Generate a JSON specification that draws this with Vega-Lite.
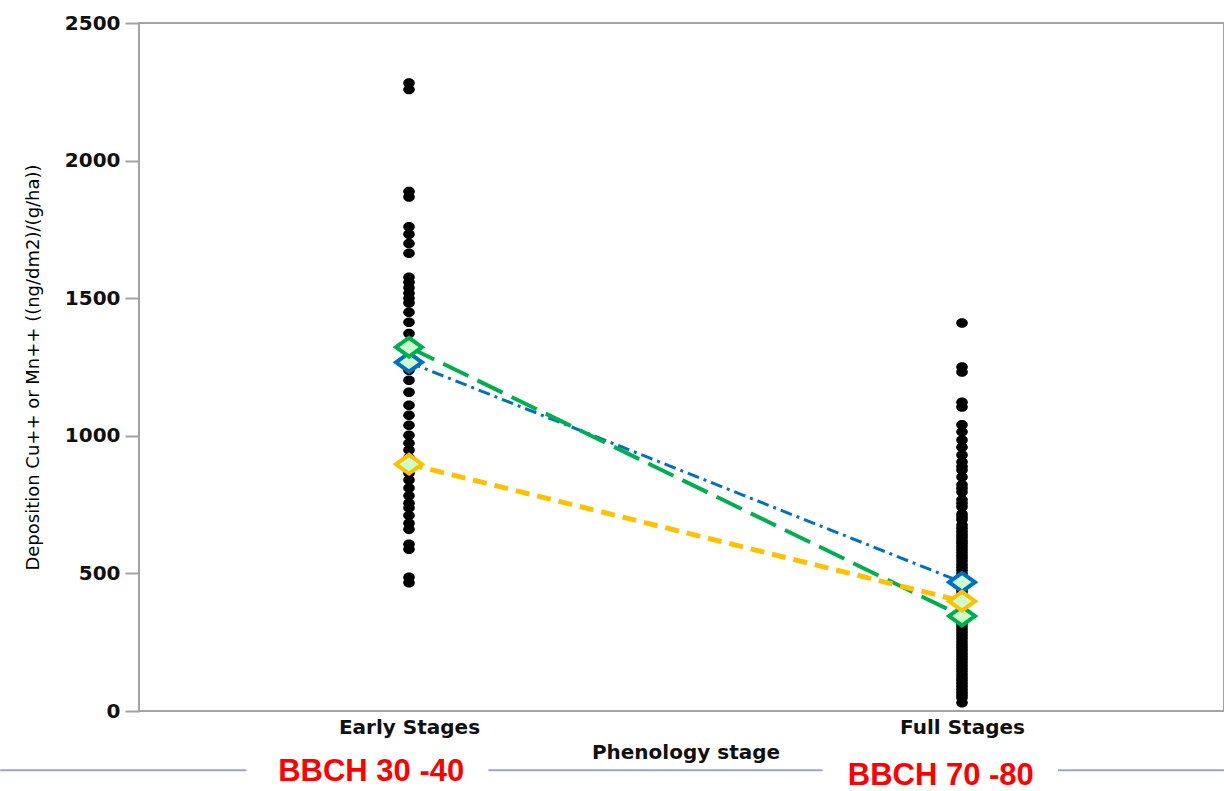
{
  "$schema": "https://vega.github.io/schema/vega-lite/v6.json",
  "width": 1085,
  "height": 688,
  "autosize": {"type": "none"},
  "padding": {"left": 139, "top": 23, "right": 0, "bottom": 80},
  "background": "white",
  "config": {
    "view": {"stroke": "#a3a3a3", "strokeWidth": 2},
    "axis": {"grid": false, "domain": false}
  },
  "datasets": {
    "samples": [
      {"stage": "Early Stages", "deposition": 2282},
      {"stage": "Early Stages", "deposition": 2258},
      {"stage": "Early Stages", "deposition": 1888},
      {"stage": "Early Stages", "deposition": 1868},
      {"stage": "Early Stages", "deposition": 1760},
      {"stage": "Early Stages", "deposition": 1732},
      {"stage": "Early Stages", "deposition": 1699},
      {"stage": "Early Stages", "deposition": 1663},
      {"stage": "Early Stages", "deposition": 1576},
      {"stage": "Early Stages", "deposition": 1558},
      {"stage": "Early Stages", "deposition": 1538},
      {"stage": "Early Stages", "deposition": 1518},
      {"stage": "Early Stages", "deposition": 1500},
      {"stage": "Early Stages", "deposition": 1483},
      {"stage": "Early Stages", "deposition": 1449},
      {"stage": "Early Stages", "deposition": 1413},
      {"stage": "Early Stages", "deposition": 1372},
      {"stage": "Early Stages", "deposition": 1330},
      {"stage": "Early Stages", "deposition": 1290},
      {"stage": "Early Stages", "deposition": 1238},
      {"stage": "Early Stages", "deposition": 1202},
      {"stage": "Early Stages", "deposition": 1158},
      {"stage": "Early Stages", "deposition": 1111},
      {"stage": "Early Stages", "deposition": 1075},
      {"stage": "Early Stages", "deposition": 1038},
      {"stage": "Early Stages", "deposition": 1002},
      {"stage": "Early Stages", "deposition": 973},
      {"stage": "Early Stages", "deposition": 948},
      {"stage": "Early Stages", "deposition": 920},
      {"stage": "Early Stages", "deposition": 890},
      {"stage": "Early Stages", "deposition": 864},
      {"stage": "Early Stages", "deposition": 839},
      {"stage": "Early Stages", "deposition": 810},
      {"stage": "Early Stages", "deposition": 782},
      {"stage": "Early Stages", "deposition": 755},
      {"stage": "Early Stages", "deposition": 738},
      {"stage": "Early Stages", "deposition": 710},
      {"stage": "Early Stages", "deposition": 682},
      {"stage": "Early Stages", "deposition": 660},
      {"stage": "Early Stages", "deposition": 606},
      {"stage": "Early Stages", "deposition": 588},
      {"stage": "Early Stages", "deposition": 486},
      {"stage": "Early Stages", "deposition": 466},
      {"stage": "Full Stages", "deposition": 1410},
      {"stage": "Full Stages", "deposition": 1250},
      {"stage": "Full Stages", "deposition": 1232},
      {"stage": "Full Stages", "deposition": 1122},
      {"stage": "Full Stages", "deposition": 1105},
      {"stage": "Full Stages", "deposition": 1040},
      {"stage": "Full Stages", "deposition": 1015},
      {"stage": "Full Stages", "deposition": 985},
      {"stage": "Full Stages", "deposition": 958},
      {"stage": "Full Stages", "deposition": 930},
      {"stage": "Full Stages", "deposition": 905},
      {"stage": "Full Stages", "deposition": 888},
      {"stage": "Full Stages", "deposition": 876},
      {"stage": "Full Stages", "deposition": 850},
      {"stage": "Full Stages", "deposition": 822},
      {"stage": "Full Stages", "deposition": 809},
      {"stage": "Full Stages", "deposition": 796},
      {"stage": "Full Stages", "deposition": 768},
      {"stage": "Full Stages", "deposition": 755},
      {"stage": "Full Stages", "deposition": 742},
      {"stage": "Full Stages", "deposition": 716},
      {"stage": "Full Stages", "deposition": 705},
      {"stage": "Full Stages", "deposition": 695},
      {"stage": "Full Stages", "deposition": 676},
      {"stage": "Full Stages", "deposition": 664},
      {"stage": "Full Stages", "deposition": 652},
      {"stage": "Full Stages", "deposition": 641},
      {"stage": "Full Stages", "deposition": 631},
      {"stage": "Full Stages", "deposition": 620},
      {"stage": "Full Stages", "deposition": 610},
      {"stage": "Full Stages", "deposition": 599},
      {"stage": "Full Stages", "deposition": 588},
      {"stage": "Full Stages", "deposition": 577},
      {"stage": "Full Stages", "deposition": 566},
      {"stage": "Full Stages", "deposition": 556},
      {"stage": "Full Stages", "deposition": 545},
      {"stage": "Full Stages", "deposition": 533},
      {"stage": "Full Stages", "deposition": 522},
      {"stage": "Full Stages", "deposition": 511},
      {"stage": "Full Stages", "deposition": 500},
      {"stage": "Full Stages", "deposition": 489},
      {"stage": "Full Stages", "deposition": 478},
      {"stage": "Full Stages", "deposition": 467},
      {"stage": "Full Stages", "deposition": 457},
      {"stage": "Full Stages", "deposition": 446},
      {"stage": "Full Stages", "deposition": 436},
      {"stage": "Full Stages", "deposition": 425},
      {"stage": "Full Stages", "deposition": 414},
      {"stage": "Full Stages", "deposition": 403},
      {"stage": "Full Stages", "deposition": 392},
      {"stage": "Full Stages", "deposition": 381},
      {"stage": "Full Stages", "deposition": 370},
      {"stage": "Full Stages", "deposition": 360},
      {"stage": "Full Stages", "deposition": 350},
      {"stage": "Full Stages", "deposition": 339},
      {"stage": "Full Stages", "deposition": 328},
      {"stage": "Full Stages", "deposition": 317},
      {"stage": "Full Stages", "deposition": 306},
      {"stage": "Full Stages", "deposition": 296},
      {"stage": "Full Stages", "deposition": 285},
      {"stage": "Full Stages", "deposition": 274},
      {"stage": "Full Stages", "deposition": 263},
      {"stage": "Full Stages", "deposition": 252},
      {"stage": "Full Stages", "deposition": 241},
      {"stage": "Full Stages", "deposition": 231},
      {"stage": "Full Stages", "deposition": 220},
      {"stage": "Full Stages", "deposition": 209},
      {"stage": "Full Stages", "deposition": 198},
      {"stage": "Full Stages", "deposition": 188},
      {"stage": "Full Stages", "deposition": 177},
      {"stage": "Full Stages", "deposition": 166},
      {"stage": "Full Stages", "deposition": 155},
      {"stage": "Full Stages", "deposition": 144},
      {"stage": "Full Stages", "deposition": 133},
      {"stage": "Full Stages", "deposition": 122},
      {"stage": "Full Stages", "deposition": 112},
      {"stage": "Full Stages", "deposition": 101},
      {"stage": "Full Stages", "deposition": 90},
      {"stage": "Full Stages", "deposition": 79},
      {"stage": "Full Stages", "deposition": 68},
      {"stage": "Full Stages", "deposition": 58},
      {"stage": "Full Stages", "deposition": 48},
      {"stage": "Full Stages", "deposition": 30}
    ],
    "means": [
      {"series": "Mean A", "stage": "Early Stages", "deposition": 1267},
      {"series": "Mean A", "stage": "Full Stages", "deposition": 468},
      {"series": "Mean B", "stage": "Early Stages", "deposition": 1322},
      {"series": "Mean B", "stage": "Full Stages", "deposition": 345},
      {"series": "Mean C", "stage": "Early Stages", "deposition": 897},
      {"series": "Mean C", "stage": "Full Stages", "deposition": 399}
    ],
    "notes": [
      {"label": "BBCH 30 -40", "across": 21.4, "level": -222},
      {"label": "BBCH 70 -80", "across": 73.9, "level": -235}
    ],
    "rules": [
      {"from": -12.8, "to": 9.9, "level": -215},
      {"from": 32.2, "to": 63.0, "level": -215},
      {"from": 84.7, "to": 100, "level": -215}
    ]
  },
  "layer": [
    {
      "encoding": {
        "x": {
          "field": "stage",
          "type": "nominal",
          "scale": {"type": "point", "domain": ["Early Stages", "Full Stages"], "range": [270, 823], "padding": 0},
          "axis": {
            "title": "Phenology stage",
            "labelAngle": 0,
            "ticks": false,
            "tickSize": 0,
            "labelPadding": 6,
            "labelFont": "DejaVu Sans",
            "labelFontSize": 20,
            "labelFontWeight": "bold",
            "labelColor": "#111111",
            "titleFont": "DejaVu Sans",
            "titleFontSize": 20,
            "titleFontWeight": "bold",
            "titleColor": "#111111",
            "titlePadding": 5
          }
        },
        "y": {
          "field": "deposition",
          "type": "quantitative",
          "scale": {"domain": [0, 2500], "nice": false, "zero": false},
          "axis": {
            "title": "Deposition Cu++ or Mn++ ((ng/dm2)/(g/ha))",
            "values": [0, 500, 1000, 1500, 2000, 2500],
            "format": "d",
            "tickColor": "#a3a3a3",
            "tickWidth": 2,
            "tickSize": 14,
            "labelPadding": 5,
            "labelFont": "DejaVu Sans",
            "labelFontSize": 20,
            "labelFontWeight": "bold",
            "labelColor": "#111111",
            "titleFont": "DejaVu Sans",
            "titleFontSize": 18,
            "titleFontWeight": "normal",
            "titleColor": "#000000",
            "titlePadding": 22
          }
        }
      },
      "layer": [
        {
          "data": {"name": "samples"},
          "mark": {
            "type": "point",
            "shape": "M-1,0A1,0.82 0 1,0 1,0A1,0.82 0 1,0 -1,0Z",
            "filled": true,
            "color": "#000000",
            "opacity": 1,
            "size": 135
          }
        },
        {
          "data": {"name": "means"},
          "mark": {"type": "line"},
          "encoding": {
            "color": {
              "field": "series",
              "type": "nominal",
              "scale": {"domain": ["Mean A", "Mean B", "Mean C"], "range": ["#0070c0", "#00b050", "#ffc000"]},
              "legend": null
            },
            "strokeDash": {
              "field": "series",
              "type": "nominal",
              "scale": {"domain": ["Mean A", "Mean B", "Mean C"], "range": [[12, 5, 3, 5], [28, 10], [14, 8]]},
              "legend": null
            },
            "strokeWidth": {
              "field": "series",
              "type": "nominal",
              "scale": {"domain": ["Mean A", "Mean B", "Mean C"], "range": [3, 5, 4.5]},
              "legend": null
            }
          }
        },
        {
          "data": {"name": "means"},
          "mark": {
            "type": "point",
            "shape": "M-1,0L0,-0.72L1,0L0,0.72Z",
            "filled": true,
            "fill": "#ccffcc",
            "size": 676,
            "strokeWidth": 4,
            "opacity": 1
          },
          "encoding": {
            "stroke": {
              "field": "series",
              "type": "nominal",
              "scale": {"domain": ["Mean A", "Mean B", "Mean C"], "range": ["#0070c0", "#00b050", "#ffc000"]},
              "legend": null
            }
          }
        }
      ]
    },
    {
      "layer": [
        {
          "data": {"name": "rules"},
          "mark": {"type": "rule", "color": "#9aa6c9", "strokeWidth": 2, "clip": false},
          "encoding": {
            "x": {"field": "from", "type": "quantitative", "scale": {"domain": [0, 100], "nice": false, "zero": false}, "axis": null},
            "x2": {"field": "to"},
            "y": {"field": "level", "type": "quantitative", "scale": {"domain": [0, 2500], "nice": false, "zero": false}, "axis": null}
          }
        },
        {
          "data": {"name": "notes"},
          "mark": {
            "type": "text",
            "color": "#ff0000",
            "font": "Liberation Sans",
            "fontSize": 31,
            "fontWeight": "bold",
            "align": "center",
            "baseline": "middle",
            "clip": false
          },
          "encoding": {
            "x": {"field": "across", "type": "quantitative", "scale": {"domain": [0, 100], "nice": false, "zero": false}, "axis": null},
            "y": {"field": "level", "type": "quantitative", "scale": {"domain": [0, 2500], "nice": false, "zero": false}, "axis": null},
            "text": {"field": "label"}
          }
        }
      ]
    }
  ],
  "resolve": {"scale": {"x": "independent", "y": "independent", "color": "independent", "stroke": "independent"}}
}
